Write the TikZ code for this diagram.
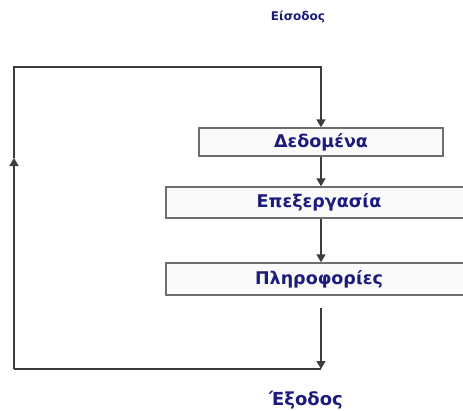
\documentclass[tikz,border=0pt]{standalone}
\usepackage{fontspec}
\setmainfont{DejaVu Sans}
\usetikzlibrary{arrows.meta}
\definecolor{navy}{HTML}{1C1C7C}
\definecolor{edge}{HTML}{6E6E6E}
\definecolor{wire}{HTML}{3C3C3C}
\definecolor{boxfill}{HTML}{FAFAFA}
\tikzset{
  stagebox/.style={draw=edge, line width=1.4pt, fill=boxfill, inner sep=0pt,
    text=navy, font=\bfseries\fontsize{17.5}{20}\selectfont},
  flow/.style={draw=wire, line width=1.5pt, -{Triangle[length=8pt,width=9pt]}},
  plain/.style={draw=wire, line width=1.5pt},
  caption/.style={text=navy, font=\bfseries}
}
\begin{document}
\begin{tikzpicture}[x=1pt,y=-1pt]
  \useasboundingbox (0,0) rectangle (463,410);

  % processing stages
  \node[stagebox, minimum width=244pt, minimum height=28pt] (data) at (321,142) {Δεδομένα};
  \node[stagebox, minimum width=306pt, minimum height=31pt] (proc) at (319,202.5) {Επεξεργασία};
  \node[stagebox, minimum width=306pt, minimum height=32pt] (info) at (319,279) {Πληροφορίες};

  % labels
  \node[caption, font=\bfseries\fontsize{12}{14}\selectfont] (in) at (298,17) {Είσοδος};
  \node[caption, font=\bfseries\fontsize{18}{20}\selectfont] (out) at (306,400) {Έξοδος};

  % feedback loop points
  \coordinate (topright) at (321,67);
  \coordinate (topleft) at (14,67);
  \coordinate (mark) at (14,158);
  \coordinate (botleft) at (14,369);
  \coordinate (outstart) at (321,308);
  \coordinate (outend) at (321,369);

  % connectors
  \draw[flow] (data.south -| topright) -- (proc.north -| topright);
  \draw[flow] (proc.south -| topright) -- (info.north -| topright);
  \draw[flow] (outstart) -- (outend);
  \draw[plain] (outend) -- (botleft);
  \draw[flow] (botleft) -- (mark);
  \draw[flow] (mark) -- (topleft) -- (topright) -- (data.north -| topright);
\end{tikzpicture}
\end{document}
